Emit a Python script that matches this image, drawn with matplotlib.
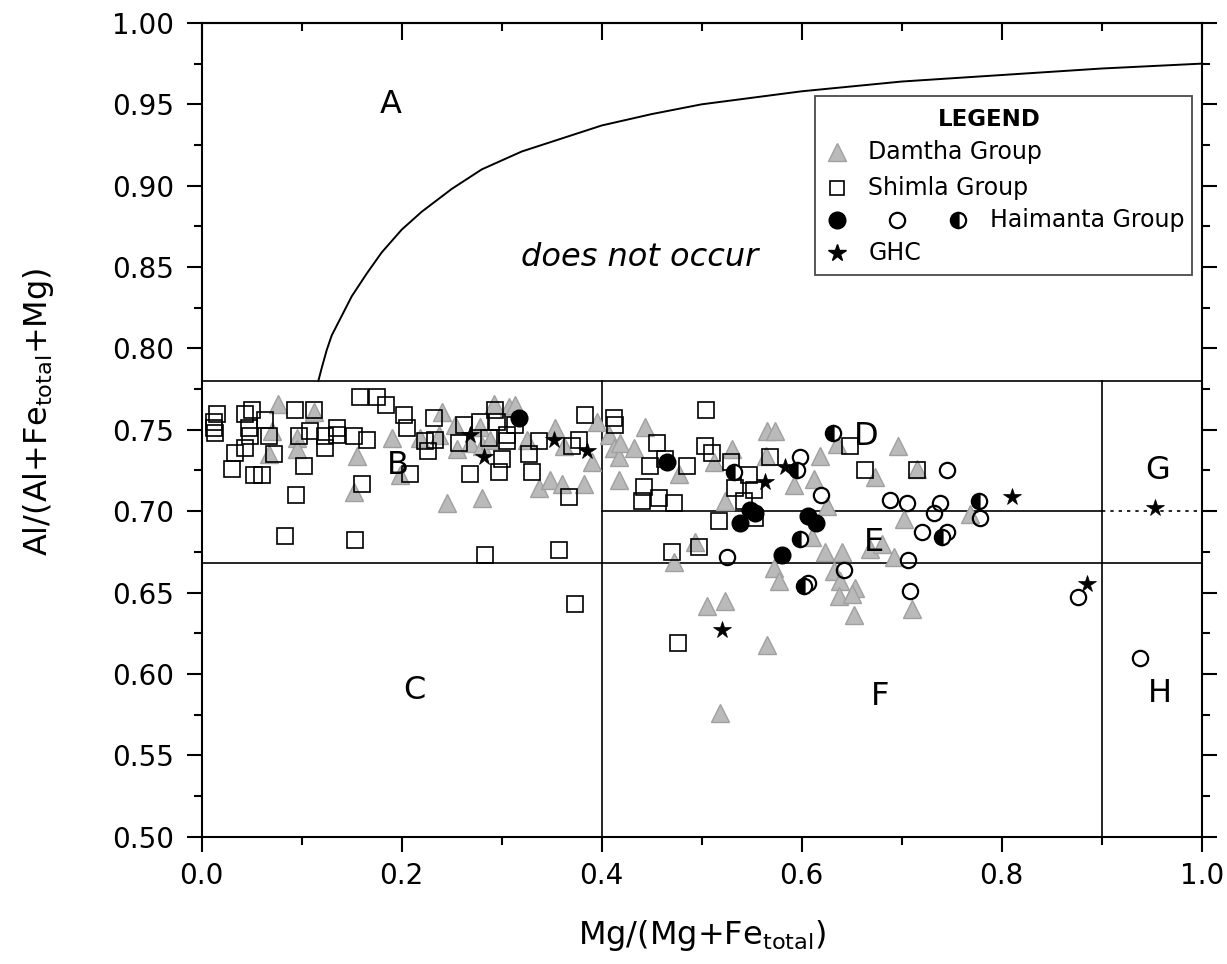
import numpy as np
import matplotlib
matplotlib.use("Agg")
import matplotlib.pyplot as plt
from matplotlib.patches import Rectangle
from matplotlib.ticker import MultipleLocator, FormatStrFormatter

plt.rcParams['font.family'] = ['DejaVu Sans']
plt.rcParams['mathtext.default'] = 'regular'

# ---------------- data ----------------
damtha_x = [0.076, 0.112, 0.070, 0.095, 0.095, 0.067, 0.155, 0.190, 0.152, 0.198,
            0.240, 0.218, 0.237, 0.253, 0.255, 0.268, 0.278, 0.280, 0.292, 0.307,
            0.313, 0.288, 0.325, 0.353, 0.362, 0.337, 0.348, 0.360, 0.382, 0.390,
            0.395, 0.245, 0.280,
            0.407, 0.412, 0.417, 0.417, 0.418, 0.432, 0.443, 0.477, 0.512, 0.530,
            0.565, 0.573, 0.592, 0.523, 0.493, 0.472, 0.572, 0.577, 0.505, 0.523,
            0.565, 0.518, 0.564,
            0.618, 0.635, 0.696, 0.673, 0.715, 0.612, 0.625, 0.702, 0.768, 0.610,
            0.623, 0.640, 0.668, 0.680, 0.692, 0.632, 0.638, 0.653, 0.637, 0.650,
            0.652, 0.710]
damtha_y = [0.766, 0.761, 0.749, 0.745, 0.738, 0.735, 0.734, 0.745, 0.712, 0.722,
            0.761, 0.745, 0.747, 0.753, 0.738, 0.742, 0.752, 0.740, 0.766, 0.764,
            0.765, 0.744, 0.744, 0.751, 0.740, 0.714, 0.719, 0.717, 0.717, 0.730,
            0.755, 0.705, 0.708,
            0.747, 0.739, 0.733, 0.719, 0.742, 0.739, 0.752, 0.723, 0.730, 0.738,
            0.749, 0.749, 0.716, 0.706, 0.681, 0.669, 0.665, 0.657, 0.642, 0.645,
            0.618, 0.576, 0.734,
            0.734, 0.741, 0.740, 0.721, 0.726, 0.720, 0.703, 0.695, 0.698, 0.684,
            0.675, 0.675, 0.677, 0.680, 0.672, 0.663, 0.657, 0.653, 0.648, 0.649,
            0.636, 0.640]

shimla_x = [0.015, 0.012, 0.012, 0.013, 0.050, 0.043, 0.063, 0.047, 0.048, 0.067,
            0.093, 0.112, 0.158, 0.175, 0.184, 0.202, 0.205, 0.108, 0.097, 0.135,
            0.135, 0.123, 0.152, 0.165, 0.123, 0.043, 0.033, 0.072, 0.030, 0.052,
            0.060, 0.102, 0.160, 0.094, 0.083, 0.153,
            0.232, 0.208, 0.223, 0.226, 0.233, 0.257, 0.262, 0.278, 0.293, 0.295,
            0.287, 0.305, 0.305, 0.313, 0.327, 0.268, 0.300, 0.297, 0.330, 0.337,
            0.377, 0.370, 0.383, 0.367, 0.283, 0.357, 0.373,
            0.412, 0.413, 0.504, 0.455, 0.448, 0.463, 0.485, 0.503, 0.510, 0.529,
            0.547, 0.533, 0.552, 0.442, 0.440, 0.457, 0.472, 0.542, 0.517, 0.553,
            0.568, 0.470, 0.497, 0.476,
            0.648, 0.663, 0.715]
shimla_y = [0.760, 0.755, 0.751, 0.748, 0.762, 0.760, 0.756, 0.751, 0.746, 0.746,
            0.762, 0.762, 0.770, 0.770, 0.765, 0.759, 0.751, 0.749, 0.746, 0.751,
            0.747, 0.746, 0.746, 0.744, 0.739, 0.739, 0.736, 0.735, 0.726, 0.722,
            0.722, 0.728, 0.717, 0.710, 0.685, 0.682,
            0.757, 0.723, 0.743, 0.737, 0.744, 0.742, 0.753, 0.755, 0.762, 0.755,
            0.745, 0.747, 0.743, 0.753, 0.735, 0.723, 0.732, 0.724, 0.724, 0.743,
            0.744, 0.740, 0.759, 0.709, 0.673, 0.676, 0.643,
            0.757, 0.753, 0.762, 0.742, 0.728, 0.732, 0.728, 0.740, 0.736, 0.730,
            0.722, 0.714, 0.713, 0.715, 0.706, 0.708, 0.705, 0.706, 0.694, 0.696,
            0.733, 0.675, 0.678, 0.619,
            0.740, 0.725, 0.725]

haim_filled_x = [0.317, 0.465, 0.548, 0.553, 0.538, 0.580, 0.606, 0.614]
haim_filled_y = [0.757, 0.730, 0.701, 0.699, 0.693, 0.673, 0.697, 0.693]

haim_open_x = [0.598, 0.525, 0.745, 0.619, 0.688, 0.705, 0.738, 0.732, 0.720,
               0.745, 0.778, 0.706, 0.642, 0.606, 0.708, 0.876, 0.938]
haim_open_y = [0.733, 0.672, 0.725, 0.710, 0.707, 0.705, 0.705, 0.699, 0.687,
               0.687, 0.696, 0.670, 0.664, 0.656, 0.651, 0.647, 0.610]

haim_half_x = [0.532, 0.595, 0.598, 0.602, 0.631, 0.777, 0.740]
haim_half_y = [0.724, 0.725, 0.683, 0.654, 0.748, 0.706, 0.684]

ghc_x = [0.268, 0.282, 0.352, 0.385, 0.563, 0.583, 0.520, 0.810, 0.885, 0.953]
ghc_y = [0.747, 0.733, 0.744, 0.737, 0.718, 0.727, 0.627, 0.709, 0.655, 0.702]

# boundary curve
curve_x = [0.1166, 0.120, 0.125, 0.130, 0.140, 0.150, 0.165, 0.180, 0.200, 0.220,
           0.250, 0.280, 0.320, 0.360, 0.400, 0.450, 0.500, 0.600, 0.700, 0.800,
           0.900, 1.000]
curve_y = [0.780, 0.788, 0.799, 0.808, 0.820, 0.832, 0.846, 0.859, 0.873, 0.884,
           0.898, 0.910, 0.921, 0.929, 0.937, 0.944, 0.950, 0.958, 0.964, 0.968,
           0.972, 0.975]

# field boundaries
y_upper = 0.78
y_lower = 0.668
y_mid = 0.70
x_div1 = 0.4
x_div2 = 0.9

region_labels = ['A', 'B', 'C', 'D', 'E', 'F', 'G', 'H']
region_x = [0.189, 0.196, 0.213, 0.664, 0.672, 0.678, 0.956, 0.958]
region_y = [0.950, 0.728, 0.590, 0.746, 0.681, 0.586, 0.725, 0.588]

# ---------------- figure ----------------
fig = plt.figure(figsize=(12.27, 9.64), dpi=100)
ax = fig.add_axes([0.1644, 0.1321, 0.815, 0.8441])
ax.set_xlim(0, 1.0)
ax.set_ylim(0.5, 1.0)

lw_line = 1.2
ax.plot(curve_x, curve_y, color='black', lw=1.4, zorder=2)
ax.plot([0, 1], [y_upper, y_upper], color='black', lw=lw_line, zorder=2)
ax.plot([0, 1], [y_lower, y_lower], color='black', lw=lw_line, zorder=2)
ax.plot([x_div1, x_div2], [y_mid, y_mid], color='black', lw=lw_line, zorder=2)
ax.plot([x_div2, 1.0], [y_mid, y_mid], color='black', lw=lw_line,
        linestyle=(0, (2, 3)), zorder=2)
ax.plot([x_div1, x_div1], [0.5, y_upper], color='black', lw=lw_line, zorder=2)
ax.plot([x_div2, x_div2], [0.5, y_upper], color='black', lw=lw_line, zorder=2)

tri_face = '#bababa'
tri_edge = '#a0a0a0'
ax.plot(damtha_x, damtha_y, linestyle='none', marker='^', ms=12.5,
        mfc=tri_face, mec=tri_edge, mew=1.0, zorder=3)
ax.plot(shimla_x, shimla_y, linestyle='none', marker='s', ms=11,
        mfc='none', mec='black', mew=1.2, zorder=4)
ax.plot(haim_open_x, haim_open_y, linestyle='none', marker='o', ms=11,
        mfc='none', mec='black', mew=1.6, zorder=5)
ax.plot(haim_half_x, haim_half_y, linestyle='none', marker='o', ms=11,
        fillstyle='left', mfc='black', mfcalt='white', mec='black', mew=1.6, zorder=5)
ax.plot(haim_filled_x, haim_filled_y, linestyle='none', marker='o', ms=12,
        mfc='black', mec='black', mew=1.0, zorder=6)
ax.plot(ghc_x, ghc_y, linestyle='none', marker='*', ms=13,
        mfc='black', mec='black', mew=0.5, zorder=7)

for lab, xx, yy in zip(region_labels, region_x, region_y):
    ax.text(xx, yy, lab, fontsize=23, ha='center', va='center', zorder=8)
ax.text(0.438, 0.856, 'does not occur', fontsize=23, style='italic',
        ha='center', va='center', zorder=8)

# ---------------- axes styling ----------------
for sp in ax.spines.values():
    sp.set_linewidth(1.5)
ax.xaxis.set_major_locator(MultipleLocator(0.2))
ax.xaxis.set_minor_locator(MultipleLocator(0.1))
ax.yaxis.set_major_locator(MultipleLocator(0.05))
ax.yaxis.set_minor_locator(MultipleLocator(0.025))
ax.xaxis.set_major_formatter(FormatStrFormatter('%.1f'))
ax.yaxis.set_major_formatter(FormatStrFormatter('%.2f'))
ax.tick_params(which='both', direction='out', width=1.5, bottom=True, left=True,
               right=True, top=False, labelright=False, labelsize=20)
ax.tick_params(which='major', length=11)
ax.tick_params(which='minor', length=6)
ax.tick_params(axis='x', which='major', pad=7)
ax.tick_params(axis='y', which='major', pad=9)

secx = ax.secondary_xaxis('top')
secx.xaxis.set_major_locator(MultipleLocator(0.2))
secx.xaxis.set_minor_locator(MultipleLocator(0.1))
secx.tick_params(which='both', direction='in', width=1.5, labeltop=False)
secx.tick_params(which='major', length=12)
secx.tick_params(which='minor', length=6)
secx.spines['top'].set_linewidth(1.5)

ax.set_xlabel('Mg/(Mg+Fe$_{total}$)', fontsize=23)
ax.xaxis.set_label_coords(0.5, -0.100)
ax.set_ylabel('Al/(Al+Fe$_{total}$+Mg)', fontsize=23)
ax.yaxis.set_label_coords(-0.146, 0.522)

# ---------------- legend (drawn manually) ----------------
T = ax.transAxes
ax.add_patch(Rectangle((0.6133, 0.6903), 0.3767, 0.2200, transform=T,
                       facecolor='white', edgecolor='#4a4a4a', lw=1.3, zorder=9))
ax.text(0.7878, 0.8808, 'LEGEND', transform=T, fontsize=16.5, fontweight='bold',
        ha='center', va='center', zorder=10)
rows = [0.8418, 0.7968, 0.7579, 0.7170]
mx = 0.635
tx = 0.6666
lfs = 17
ax.plot([mx], [rows[0]], transform=T, marker='^', ms=13, mfc=tri_face, mec=tri_edge,
        mew=1.0, linestyle='none', zorder=10, clip_on=False)
ax.text(tx, rows[0], 'Damtha Group', transform=T, fontsize=lfs, va='center', zorder=10)
ax.plot([mx], [rows[1]], transform=T, marker='s', ms=10, mfc='none', mec='black',
        mew=1.2, linestyle='none', zorder=10, clip_on=False)
ax.text(tx, rows[1], 'Shimla Group', transform=T, fontsize=lfs, va='center', zorder=10)
ax.plot([mx], [rows[2]], transform=T, marker='o', ms=12, mfc='black', mec='black',
        linestyle='none', zorder=10, clip_on=False)
ax.plot([0.6956], [rows[2]], transform=T, marker='o', ms=11, mfc='none', mec='black',
        mew=1.6, linestyle='none', zorder=10, clip_on=False)
ax.plot([0.7566], [rows[2]], transform=T, marker='o', ms=11, fillstyle='left',
        mfc='black', mfcalt='white', mec='black', mew=1.6, linestyle='none',
        zorder=10, clip_on=False)
ax.text(0.7883, rows[2], 'Haimanta Group', transform=T, fontsize=lfs, va='center', zorder=10)
ax.plot([mx], [rows[3]], transform=T, marker='*', ms=13, mfc='black', mec='black',
        linestyle='none', zorder=10, clip_on=False)
ax.text(tx, rows[3], 'GHC', transform=T, fontsize=lfs, va='center', zorder=10)

fig.savefig('out.png', dpi=100, facecolor='white')
